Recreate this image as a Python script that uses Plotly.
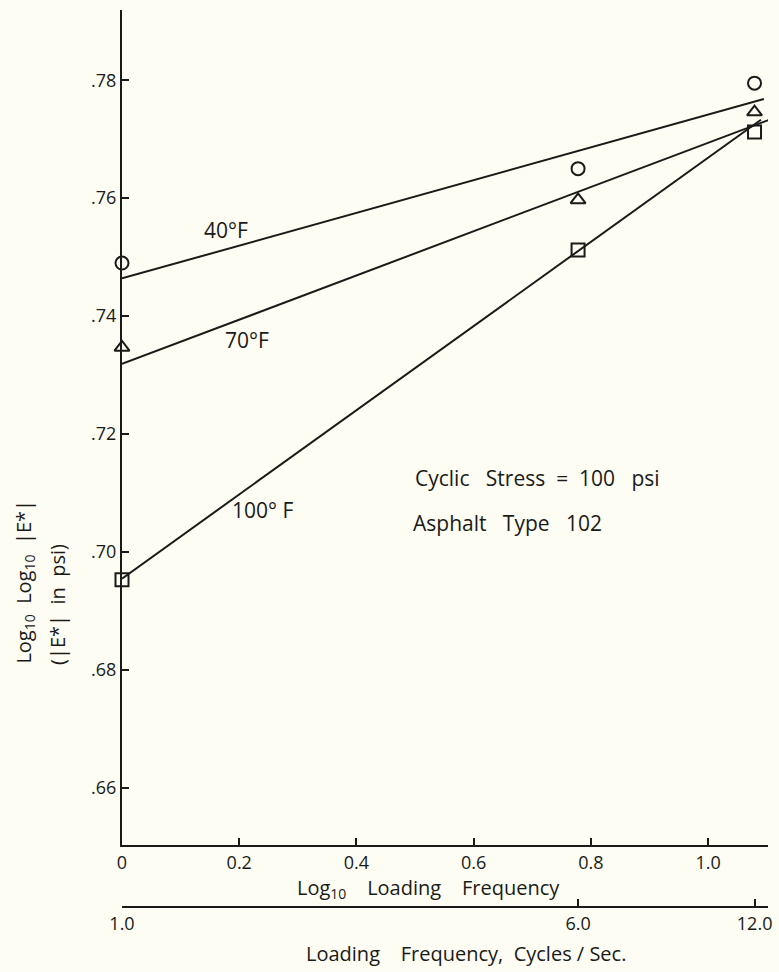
import plotly.graph_objects as go

# ---- data ----
freq_hz = [1.0, 6.0, 12.0]
log_freq = [0.0, 0.778, 1.079]
e40 = [0.749, 0.765, 0.7795]
e70 = [0.7347, 0.7597, 0.7746]
e100 = [0.6953, 0.7512, 0.7712]

fit40_x = [0.0, 1.095]
fit40_y = [0.7464, 0.7768]
fit70_x = [0.0, 1.107]
fit70_y = [0.7319, 0.7734]
fit100_x = [0.0, 1.09]
fit100_y = [0.6955, 0.7733]

y_ticks = [0.66, 0.68, 0.70, 0.72, 0.74, 0.76, 0.78]
y_ticktext = [".66", ".68", ".70", ".72", ".74", ".76", ".78"]
x_ticks = [0.0, 0.2, 0.4, 0.6, 0.8, 1.0]
x_ticktext = ["0", "0.2", "0.4", "0.6", "0.8", "1.0"]
x2_ticks = [1.0, 6.0, 12.0]
x2_ticktext = ["1.0", "6.0", "12.0"]

# ---- layout geometry ----
W, H = 779, 972
ML, MR, MT, MB = 122, 7, 10, 10
PW = W - ML - MR
PH = H - MT - MB
def px_x(p):
    return (p - ML) / PW
def px_y(p):
    return (H - MB - p) / PH

ink = "#1a1a18"
FONT = "Open Sans"
NB = "\u00a0"
FS = 20
TFS = 18

fig = go.Figure()

for fx, fy in [(fit40_x, fit40_y), (fit70_x, fit70_y), (fit100_x, fit100_y)]:
    fig.add_trace(go.Scatter(x=fx, y=fy, mode="lines",
                             line=dict(color=ink, width=2), showlegend=False,
                             hoverinfo="skip", cliponaxis=False))

for ys, sym in [(e40, "circle-open"), (e70, "triangle-up-open"), (e100, "square-open")]:
    fig.add_trace(go.Scatter(x=log_freq, y=ys, mode="markers",
                             marker=dict(symbol=sym, size=13, color=ink,
                                         line=dict(color=ink, width=2)),
                             showlegend=False, cliponaxis=False))

# invisible trace on the secondary (frequency) axis
fig.add_trace(go.Scatter(x=freq_hz, y=e40, xaxis="x2", mode="markers",
                         marker=dict(opacity=0), showlegend=False,
                         hoverinfo="skip"))

axis_common = dict(showgrid=False, zeroline=False, showline=True,
                   linecolor=ink, linewidth=2, ticks="inside", ticklen=7,
                   tickwidth=1.5, tickcolor=ink, tickfont=dict(size=TFS))

fig.update_layout(
    width=W, height=H,
    margin=dict(l=ML, r=MR, t=MT, b=MB),
    paper_bgcolor="#fdfdf3", plot_bgcolor="#fdfdf3",
    font=dict(family=FONT, size=FS, color=ink),
    xaxis=dict(range=[0, 1.102], tickvals=x_ticks, ticktext=x_ticktext,
               anchor="y", **axis_common),
    yaxis=dict(range=[0.65034, 0.7919], domain=[px_y(845), 1],
               tickvals=y_ticks, ticktext=y_ticktext, anchor="x",
               **axis_common),
    xaxis2=dict(type="log", range=[0, 1.102], tickvals=x2_ticks,
                ticktext=x2_ticktext, overlaying="x", anchor="free",
                position=px_y(907), side="bottom", **axis_common),
)

ann = [
    dict(text="40°F", x=0.178, y=0.7546, xref="x", yref="y"),
    dict(text="70°F", x=0.214, y=0.7359, xref="x", yref="y"),
    dict(text="100°" + NB + "F", x=0.239, y=0.7071, xref="x", yref="y"),
]
for a in ann:
    fig.add_annotation(**a, showarrow=False, font=dict(size=21))

fig.add_annotation(text="Cyclic" + NB * 3 + "Stress" + NB * 2 + "=" + NB * 2 + "100" + NB * 3 + "psi",
                   x=px_x(415), y=px_y(478), xref="paper", yref="paper",
                   xanchor="left", yanchor="middle", showarrow=False,
                   font=dict(size=21))
fig.add_annotation(text="Asphalt" + NB * 3 + "Type" + NB * 3 + "102",
                   x=px_x(413), y=px_y(523), xref="paper", yref="paper",
                   xanchor="left", yanchor="middle", showarrow=False,
                   font=dict(size=21))

fig.add_annotation(text="Log<sub>10</sub>" + NB * 4 + "Loading" + NB * 4 + "Frequency",
                   x=px_x(430), y=px_y(888), xref="paper", yref="paper",
                   xanchor="center", yanchor="middle", showarrow=False,
                   font=dict(size=FS))
fig.add_annotation(text="Loading" + NB * 4 + "Frequency," + NB * 2 + "Cycles" + NB + "/" + NB + "Sec.",
                   x=px_x(468), y=px_y(953), xref="paper", yref="paper",
                   xanchor="center", yanchor="middle", showarrow=False,
                   font=dict(size=FS))

fig.add_annotation(text="Log<sub>10</sub>" + NB * 2 + "Log<sub>10</sub>" + NB * 2 + "|E*|",
                   x=px_x(23), y=px_y(666), xref="paper", yref="paper",
                   xanchor="center", yanchor="bottom", textangle=-90,
                   showarrow=False, font=dict(size=FS))
fig.add_annotation(text="(|E*|" + NB * 2 + "in" + NB * 2 + "psi)",
                   x=px_x(57), y=px_y(667), xref="paper", yref="paper",
                   xanchor="center", yanchor="bottom", textangle=-90,
                   showarrow=False, font=dict(size=FS))

fig.write_html("out.html")
